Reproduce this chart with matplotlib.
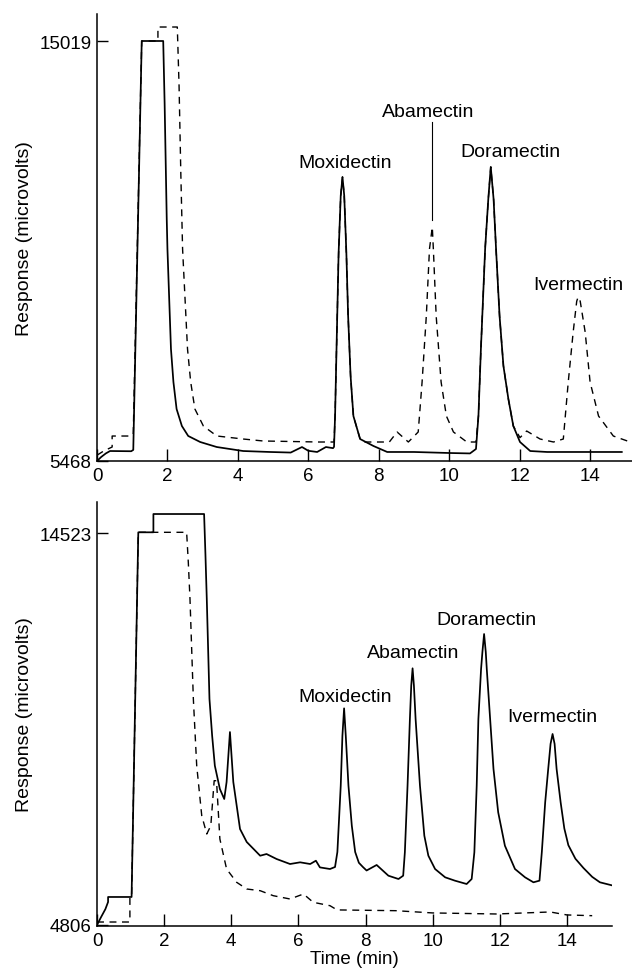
#!/usr/bin/env python3
# two chromatograms, solid = one sample, dashed = the other
import matplotlib
matplotlib.use("Agg")
import matplotlib.pyplot as plt

plt.rcParams['font.family'] = ['Liberation Sans', 'DejaVu Sans']

# ---- top panel, solid trace (time in min, response in microvolts)
top_solid_t = [0.00, 0.12, 0.25, 0.37, 0.97, 1.03, 1.27, 1.88, 1.92, 1.98, 2.00, 2.05,
               2.10, 2.17, 2.26, 2.41, 2.59, 2.93, 3.40, 4.15, 4.91, 5.50, 5.82, 6.00,
               6.25, 6.50, 6.70, 6.73, 6.76, 6.80, 6.86, 6.92, 6.97, 7.02, 7.08, 7.13,
               7.20, 7.28, 7.47, 7.85, 8.24, 9.00, 10.00, 10.59, 10.76, 10.83, 10.90,
               11.02, 11.11, 11.18, 11.26, 11.33, 11.43, 11.54, 11.68, 11.82, 12.01,
               12.30, 12.78, 14.00, 14.90]
top_solid_v = [5468, 5560, 5640, 5695, 5690, 5720, 15019, 15019, 13600, 10971, 10289, 9152,
               8015, 7264, 6650, 6264, 6037, 5900, 5786, 5695, 5673, 5660, 5786, 5700,
               5673, 5786, 5760, 5790, 6500, 8000, 10200, 11500, 11926, 11500, 10200, 8765,
               7400, 6491, 5968, 5809, 5673, 5673, 5650, 5640, 5741, 6491, 8015,
               10289, 11426, 12154, 11426, 10289, 8765, 7628, 6878, 6264, 5900,
               5695, 5673, 5673, 5673]

# ---- top panel, dashed trace
top_dash_t = [0.00, 0.20, 0.43, 0.43, 0.97, 1.03, 1.27, 1.73, 1.73, 2.28, 2.33, 2.38,
              2.43, 2.50, 2.57, 2.66, 2.78, 3.02, 3.40, 4.15, 4.72, 6.30, 6.70, 6.73,
              6.76, 6.80, 6.86, 6.92, 6.97, 7.02, 7.08, 7.13, 7.20, 7.28, 7.47, 7.56,
              8.30, 8.52, 8.84, 9.12, 9.23, 9.35, 9.44, 9.52, 9.55, 9.63, 9.70, 9.77,
              9.92, 10.12, 10.50, 10.76, 10.83, 10.90, 11.02, 11.11, 11.18, 11.26, 11.33,
              11.43, 11.54, 11.68, 11.82, 12.01, 12.20, 12.58, 12.96, 13.24, 13.38, 13.52,
              13.62, 13.66, 13.72, 13.86, 14.00, 14.24, 14.66, 15.14, 15.20]
top_dash_v = [5600, 5700, 5786, 6036, 6036, 6100, 15019, 15019, 15337, 15337, 14000, 12000,
              10289, 9152, 8015, 7264, 6650, 6264, 6037, 5968, 5923, 5900, 5900, 5900,
              6500, 8000, 10200, 11500, 11926, 11500, 10200, 8765, 7400, 6491, 5968, 5900,
              5900, 6128, 5900, 6128, 7264, 8765, 10289, 10789, 10289, 8765, 8015, 7264,
              6491, 6128, 5900, 5900, 6491, 8015, 10289, 11426, 12154, 11426, 10289,
              8765, 7628, 6878, 6264, 6000, 6150, 5968, 5900, 5968, 7264, 8401,
              9100, 9197, 9100, 8401, 7264, 6491, 6036, 5900, 5900]

# ---- bottom panel, solid trace
bot_solid_t = [0.00, 0.12, 0.25, 0.33, 0.33, 0.98, 1.03, 1.23, 1.68, 1.68, 3.19, 3.23,
               3.27, 3.35, 3.43, 3.51, 3.66, 3.79, 3.86, 3.96, 4.06, 4.26, 4.46, 4.86,
               5.05, 5.35, 5.75, 6.05, 6.35, 6.52, 6.64, 6.94, 7.09, 7.16, 7.22, 7.26,
               7.31, 7.36, 7.41, 7.49, 7.59, 7.69, 7.80, 7.92, 8.03, 8.33, 8.68, 8.98,
               9.12, 9.17, 9.25, 9.32, 9.36, 9.40, 9.44, 9.49, 9.62, 9.75, 9.87, 10.07,
               10.37, 10.66, 11.01, 11.16, 11.24, 11.31, 11.36, 11.44, 11.48, 11.53, 11.58,
               11.61, 11.71, 11.81, 11.95, 12.15, 12.45, 12.75, 13.00, 13.18, 13.25, 13.35,
               13.44, 13.51, 13.57, 13.63, 13.69, 13.81, 13.92, 14.04, 14.25, 14.49, 14.75,
               14.98, 15.38]
bot_solid_v = [4806, 5000, 5200, 5377, 5501, 5501, 5501, 14549, 14549, 15003, 15003, 14000,
               12894, 10413, 9500, 8758, 8180, 7932, 8354, 9594, 8354, 7188, 6865, 6525,
               6567, 6443, 6319, 6361, 6319, 6401, 6235, 6195, 6245, 6617, 7600, 8262,
               9500, 10182, 9500, 8262, 7269, 6617, 6350, 6245, 6158, 6295, 6029, 5947,
               6029, 6610, 8262, 9917, 10743, 11175, 10743, 9917, 8262, 7021, 6525, 6195,
               5989, 5906, 5823, 5947, 6610, 8262, 9917, 11157, 11579, 12026, 11579,
               11157, 9917, 8677, 7602, 6773, 6195, 5989, 5865, 5906, 6617, 7850,
               8677, 9300, 9545, 9300, 8677, 7850, 7200, 6786, 6450, 6220, 6000,
               5865, 5781]

# ---- bottom panel, dashed trace
bot_dash_t = [0.00, 0.98, 0.98, 1.03, 1.23, 2.67, 2.72, 2.77, 2.87, 2.97, 3.12, 3.27,
              3.39, 3.49, 3.56, 3.66, 3.86, 4.16, 4.46, 4.86, 5.25, 5.75, 6.15, 6.44,
              6.94, 7.15, 8.90, 10.00, 11.90, 13.50, 14.00, 14.75]
bot_dash_v = [4880, 4880, 5501, 5501, 14549, 14549, 13800, 12894, 10413, 8758, 7518, 7064,
              7270, 8386, 8386, 6940, 6195, 5865, 5699, 5657, 5533, 5451, 5575, 5369,
              5285, 5180, 5161, 5105, 5079, 5129, 5055, 5037]

# peak names, where they sit (time, baseline of the text)
top_names = ["Moxidectin", "Abamectin", "Doramectin", "Ivermectin"]
top_name_t = [7.04, 9.40, 11.73, 13.66]
top_name_v = [12154, 13313, 12404, 9379]
bot_names = ["Moxidectin", "Abamectin", "Doramectin", "Ivermectin"]
bot_name_t = [7.39, 9.41, 11.59, 13.57]
bot_name_v = [10371, 11448, 12274, 9875]

top_yticks = [5468, 15019]
bot_yticks = [4806, 14523]
xticks = [0, 2, 4, 6, 8, 10, 12, 14]

fig = plt.figure(figsize=(6.32, 9.70), dpi=100)
ax1 = fig.add_axes([97/632, 1 - 462/970, 535/632, 447/970])
ax2 = fig.add_axes([97/632, 1 - 927/970, 515/632, 424/970])

dash = (0, (5, 4))
ax1.plot(top_dash_t, top_dash_v, color='black', lw=1.0, linestyle=dash)
ax1.plot(top_solid_t, top_solid_v, color='black', lw=1.25)
# leader line from the abamectin label down to its peak
ax1.plot([9.52, 9.52], [10950, 13180], color='black', lw=0.8)
ax1.set_xlim(0, 15.19)
ax1.set_ylim(5468, 15633)

ax2.plot(bot_dash_t, bot_dash_v, color='black', lw=1.0, linestyle=dash)
ax2.plot(bot_solid_t, bot_solid_v, color='black', lw=1.25)
ax2.set_xlim(0, 15.34)
ax2.set_ylim(4781, 15301)

for ax, names, nt, nv in [(ax1, top_names, top_name_t, top_name_v),
                          (ax2, bot_names, bot_name_t, bot_name_v)]:
    for name, t, v in zip(names, nt, nv):
        ax.text(t, v, name, ha='center', va='baseline', fontsize=14)

for ax, yt in [(ax1, top_yticks), (ax2, bot_yticks)]:
    ax.spines['top'].set_visible(False)
    ax.spines['right'].set_visible(False)
    ax.spines['left'].set_linewidth(1.1)
    ax.spines['bottom'].set_linewidth(1.1)
    ax.set_xticks(xticks)
    ax.set_yticks(yt)
    ax.set_yticklabels([str(v) for v in yt])
    ax.tick_params(axis='x', direction='in', length=9, width=1.0, pad=4, labelsize=13.5)
    ax.tick_params(axis='y', direction='in', length=8, width=1.0, pad=4, labelsize=13.5)
    ax.set_ylabel('Response (microvolts)', fontsize=14)

ax1.yaxis.set_label_coords(-64/535, 0.5)
ax2.yaxis.set_label_coords(-64/515, 0.5)
ax2.set_xlabel('Time (min)', fontsize=13.5, labelpad=1)

fig.savefig('out.png', dpi=100)
